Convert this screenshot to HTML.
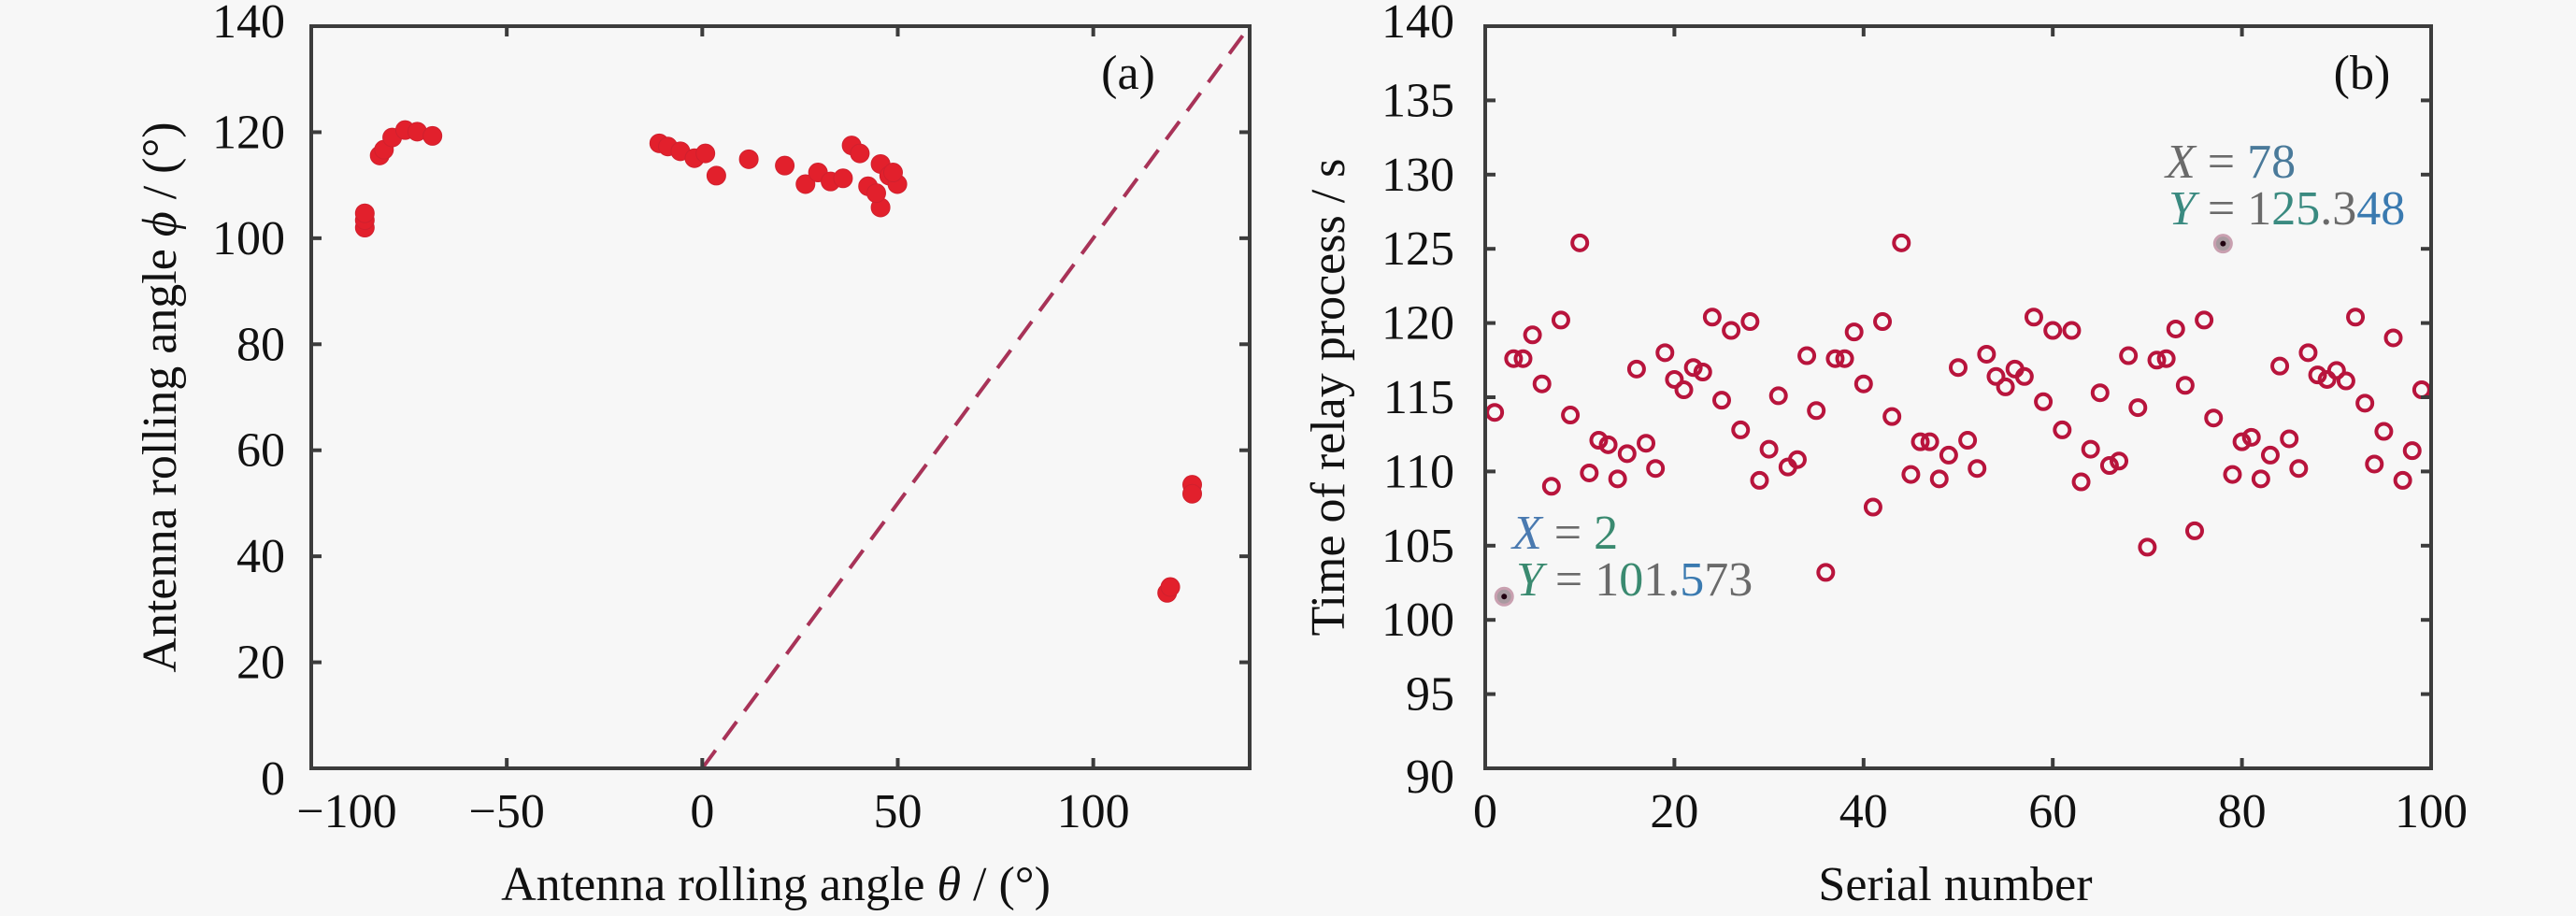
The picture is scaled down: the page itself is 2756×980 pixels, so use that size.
<!DOCTYPE html>
<html><head><meta charset="utf-8">
<style>
html,body{margin:0;padding:0;background:#f7f7f7;}
svg{display:block;font-family:"Liberation Serif",serif;}
</style></head>
<body>
<svg id="chart" width="2756" height="980" viewBox="0 0 2756 980" xmlns="http://www.w3.org/2000/svg">
<rect width="2756" height="980" fill="#f7f7f7"/>
<g id="pa"></g>
<g id="pb"></g>
</svg>
<script>
// Panel (a) data
const aX = [-86.3,-86.3,-86.3,-82.5,-81.4,-79.3,-76,-72.9,-69,-11,-8.8,-5.6,-2,0.8,3.6,11.9,21.1,26.4,29.6,32.8,36,38.2,40.3,42.4,45.6,45.6,47.8,49.9,48.8,44.5,118.9,119.7,125.3,125.3];
const aY = [102,103.4,104.7,115.6,116.7,119,120.4,120.1,119.3,117.9,117.3,116.4,115.1,116,111.8,114.9,113.7,110.2,112.4,110.7,111.3,117.5,116,109.8,114,105.8,111.8,110.2,112.4,108.5,33.1,34.2,53.5,51.8];
const aXTicks = [-100,-50,0,50,100];
const aXTickLabels = ["\u2212100","\u221250","0","50","100"];
const aYTicks = [0,20,40,60,80,100,120,140];
// Panel (b) data
const bY = [113.98,101.57,117.6,117.6,119.2,115.9,109.0,120.2,113.8,125.4,109.9,112.1,111.8,109.5,111.2,116.9,111.9,110.2,118.0,116.2,115.5,117.0,116.7,120.4,114.8,119.5,112.8,120.1,109.4,111.5,115.1,110.3,110.8,117.8,114.1,103.2,117.6,117.6,119.4,115.9,107.6,120.1,113.7,125.4,109.8,112.0,112.0,109.5,111.1,117.0,112.1,110.2,117.9,116.4,115.7,116.9,116.4,120.4,114.7,119.5,112.8,119.5,109.3,111.5,115.3,110.4,110.7,117.8,114.3,104.9,117.5,117.6,119.6,115.8,106.0,120.2,113.6,125.35,109.8,112.0,112.3,109.5,111.1,117.1,112.2,110.2,118.0,116.5,116.2,116.8,116.1,120.4,114.6,110.5,112.7,119.0,109.4,111.4,115.5];
const bXTicks = [0,20,40,60,80,100];
const bYTicks = [90,95,100,105,110,115,120,125,130,135,140];
const bTips = [2,78];

const NS="http://www.w3.org/2000/svg";
function el(parent,tag,attrs,text){const e=document.createElementNS(NS,tag);for(const k in attrs)e.setAttribute(k,attrs[k]);if(text!==undefined)e.textContent=text;parent.appendChild(e);return e;}

// ---- Panel A
const pa=document.getElementById('pa');
const A={l:333,r:1337,t:28,b:822,x0:-100,x1:140,y0:0,y1:140};
const ax=v=>A.l+(v-A.x0)/(A.x1-A.x0)*(A.r-A.l);
const ay=v=>A.b-(v-A.y0)/(A.y1-A.y0)*(A.b-A.t);
// dashed diagonal
const dl=el(pa,'line',{x1:ax(0),y1:ay(0),x2:ax(140),y2:ay(140),stroke:'#a83358','stroke-width':4,'stroke-dasharray':'24,14'});


for(let i=0;i<aX.length;i++){
  const c=el(pa,'circle',{cx:ax(aX[i]),cy:ay(aY[i]),r:10,fill:'#e2202c',stroke:'#d0202e','stroke-width':1});
  
  
}
const fa=el(pa,'rect',{x:A.l,y:A.t,width:A.r-A.l,height:A.b-A.t,fill:'none',stroke:'#3c3c3c','stroke-width':4});


aXTicks.forEach((v,i)=>{
  const x=ax(v);
  el(pa,'line',{x1:x,y1:A.b,x2:x,y2:A.b-11,stroke:'#3c3c3c','stroke-width':4});
  el(pa,'line',{x1:x,y1:A.t,x2:x,y2:A.t+11,stroke:'#3c3c3c','stroke-width':4});
  const t=el(pa,'text',{x:(v===-100?x+38:x),y:885,'font-size':52,'text-anchor':'middle',fill:'#111'},aXTickLabels[i]);
  
  
});
aYTicks.forEach(v=>{
  const y=ay(v);
  el(pa,'line',{x1:A.l,y1:y,x2:A.l+11,y2:y,stroke:'#3c3c3c','stroke-width':4});
  el(pa,'line',{x1:A.r,y1:y,x2:A.r-11,y2:y,stroke:'#3c3c3c','stroke-width':4});
  const t=el(pa,'text',{x:305,y:y+(v===0?28:(v===140?12:17)),'font-size':52,'text-anchor':'end',fill:'#111'},String(v));
  
  
});
// ---- Panel B
const pb=document.getElementById('pb');
const B={l:1589,r:2601,t:28,b:822,x0:0,x1:100,y0:90,y1:140};
const bx=v=>B.l+(v-B.x0)/(B.x1-B.x0)*(B.r-B.l);
const by=v=>B.b-(v-B.y0)/(B.y1-B.y0)*(B.b-B.t);
bY.forEach((v,i)=>{
  const n=i+1;
  const tip=bTips.indexOf(n)>=0;
  const c=el(pb,'circle',{cx:bx(n),cy:by(v),r:tip?9:8,fill:tip?'#a89aa0':'none',stroke:tip?'#c9a0b0':'#b8143c','stroke-width':tip?3:4});
  
  
  if(tip){el(pb,'circle',{cx:bx(n),cy:by(v),r:3,fill:'#200010'});}
});
const fb=el(pb,'rect',{x:B.l,y:B.t,width:B.r-B.l,height:B.b-B.t,fill:'none',stroke:'#3c3c3c','stroke-width':4});


bXTicks.forEach(v=>{
  const x=bx(v);
  el(pb,'line',{x1:x,y1:B.b,x2:x,y2:B.b-11,stroke:'#3c3c3c','stroke-width':4});
  el(pb,'line',{x1:x,y1:B.t,x2:x,y2:B.t+11,stroke:'#3c3c3c','stroke-width':4});
  const t=el(pb,'text',{x:x,y:885,'font-size':52,'text-anchor':'middle',fill:'#111'},String(v));
  
  
});
bYTicks.forEach(v=>{
  const y=by(v);
  el(pb,'line',{x1:B.l,y1:y,x2:B.l+11,y2:y,stroke:'#3c3c3c','stroke-width':4});
  el(pb,'line',{x1:B.r,y1:y,x2:B.r-11,y2:y,stroke:'#3c3c3c','stroke-width':4});
  const t=el(pb,'text',{x:1556,y:y+(v===90?26:(v===140?12:17)),'font-size':52,'text-anchor':'end',fill:'#111'},String(v));
  
  
});
</script>
<svg style="position:absolute;left:0;top:0" width="2756" height="980" xmlns="http://www.w3.org/2000/svg" font-family="Liberation Serif, serif">
<text x="1207" y="95" font-size="52" text-anchor="middle" fill="#111">(a)</text>
<text x="2527" y="95" font-size="52" text-anchor="middle" fill="#111">(b)</text>
<text x="830" y="963" font-size="52" text-anchor="middle" fill="#111">Antenna rolling angle <tspan font-style="italic">θ</tspan> / (°)</text>
<text transform="translate(188,425) rotate(-90)" font-size="52" text-anchor="middle" fill="#111">Antenna rolling angle <tspan font-style="italic">ϕ</tspan> / (°)</text>
<text x="2092" y="963" font-size="52" text-anchor="middle" fill="#111">Serial number</text>
<text transform="translate(1438,425) rotate(-90)" font-size="52" text-anchor="middle" fill="#111">Time of relay process / s</text>
<text x="2317" y="190" font-size="52" fill="#6a6a6a"><tspan font-style="italic">X</tspan> = <tspan fill="#4a7a9a">78</tspan></text>
<text x="2320" y="240" font-size="52" fill="#6a6a6a"><tspan font-style="italic" fill="#3a8a80">Y</tspan> = 1<tspan fill="#3a8a80">25</tspan>.3<tspan fill="#3a7ab0">48</tspan></text>
<text x="1618" y="587" font-size="52" fill="#6a6a6a"><tspan font-style="italic" fill="#4a7ab0">X</tspan> = <tspan fill="#3a8a70">2</tspan></text>
<text x="1622" y="637" font-size="52" fill="#6a6a6a"><tspan font-style="italic" fill="#3a8a70">Y</tspan> = 1<tspan fill="#3a8a70">0</tspan>1.<tspan fill="#3a7ab0">5</tspan>73</text>
</svg>
</body></html>
